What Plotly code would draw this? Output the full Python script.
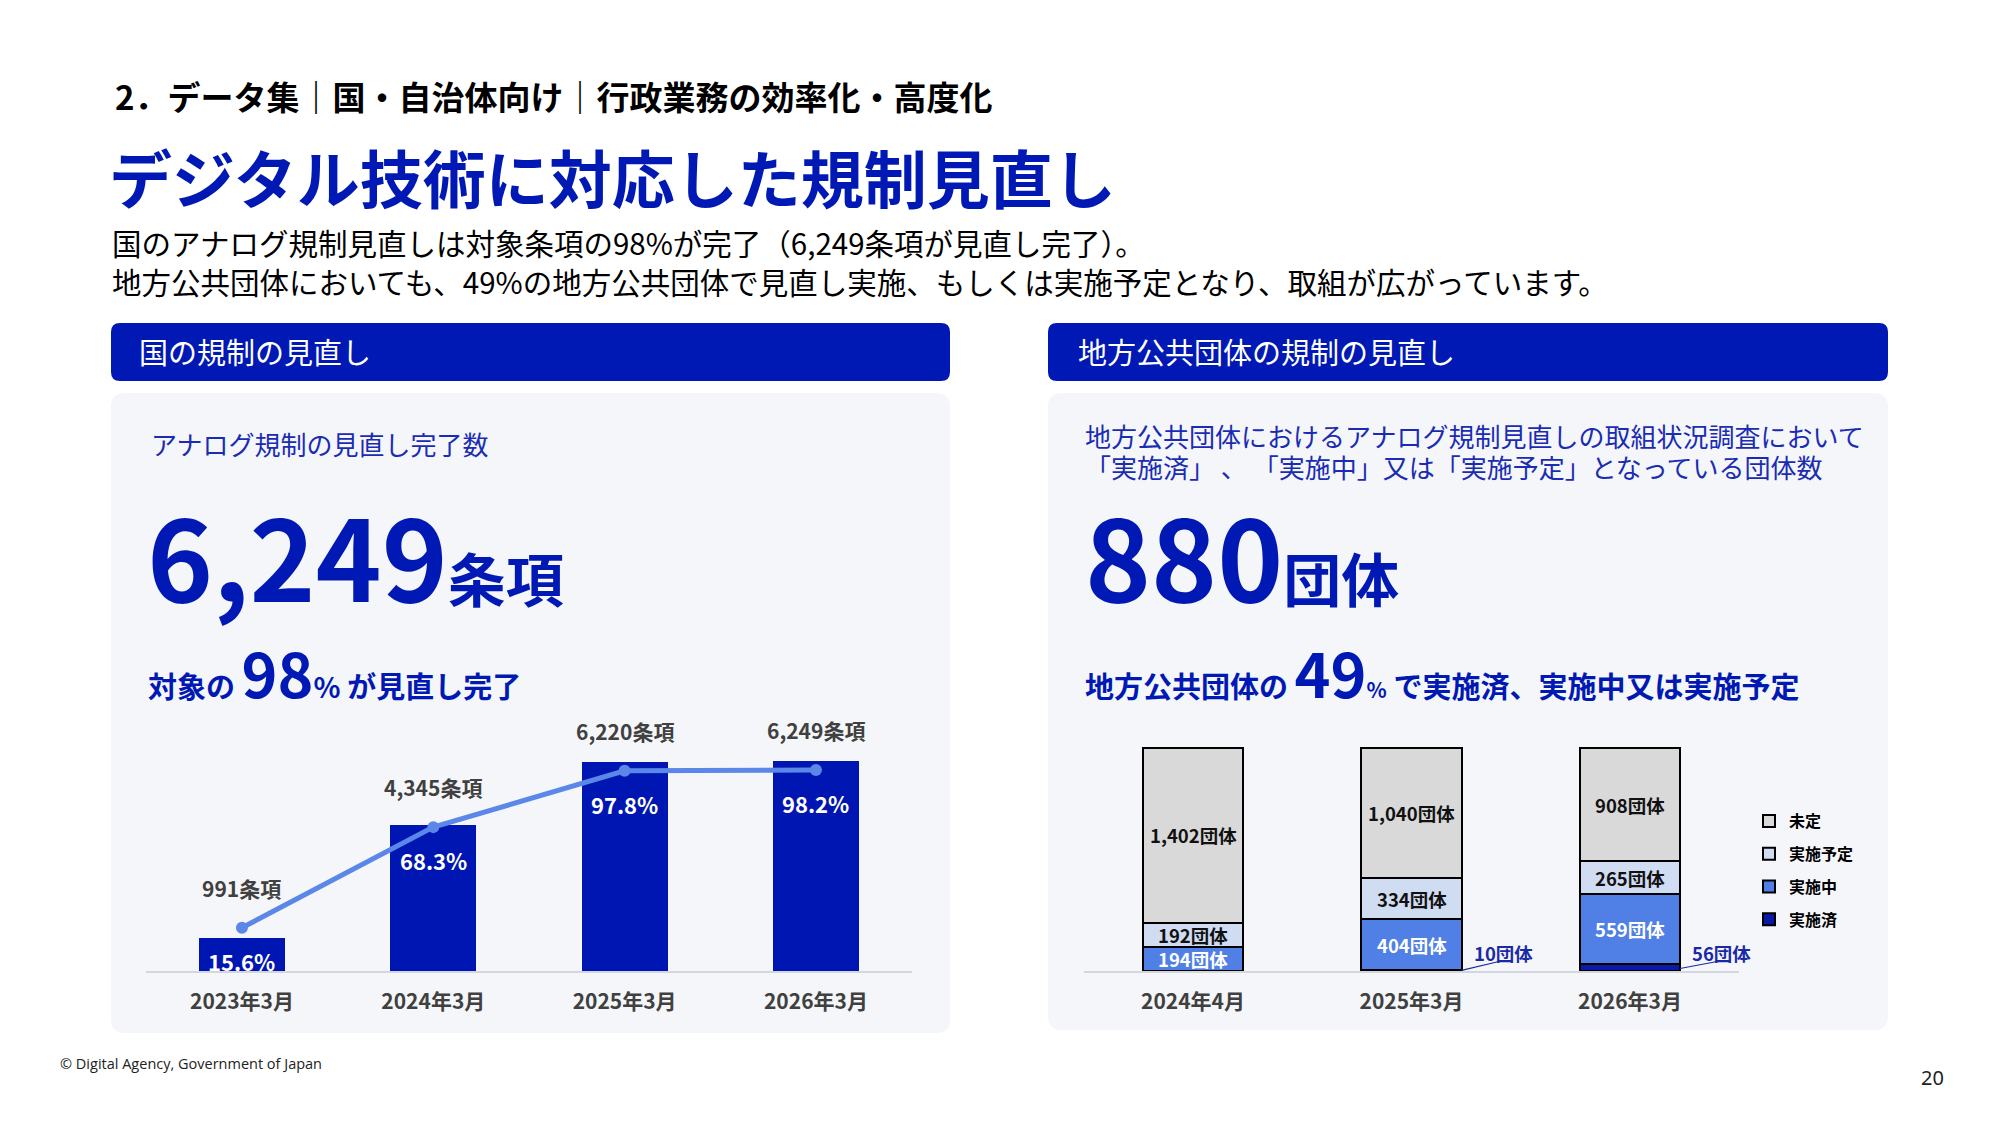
import plotly.graph_objects as go

W, H = 2000, 1125
def px(x): return x / W
def py(y): return 1 - y / H

FONT = "Noto Sans CJK JP"
BLUE = "#0019B4"
BAR_BLUE = "#0016B2"
LINE_BLUE = "#5B87E8"
TEXT_BLUE = "#1A2CB3"

# ---------------- data ----------------
nat_categories = ["2023年3月", "2024年3月", "2025年3月", "2026年3月"]
nat_counts = [991, 4345, 6220, 6249]
nat_pct = [15.6, 68.3, 97.8, 98.2]

loc_categories = ["2024年4月", "2025年3月", "2026年3月"]
loc_done = [0, 10, 56]            # 実施済
loc_doing = [194, 404, 559]       # 実施中
loc_planned = [192, 334, 265]     # 実施予定
loc_undecided = [1402, 1040, 908] # 未定
loc_series = ["実施済", "実施中", "実施予定", "未定"]

header_text = "2．データ集｜国・自治体向け｜行政業務の効率化・高度化"
title_text = "デジタル技術に対応した規制見直し"
sub1 = "国のアナログ規制見直しは対象条項の98%が完了（6,249条項が見直し完了）。"
sub2 = "地方公共団体においても、49%の地方公共団体で見直し実施、もしくは実施予定となり、取組が広がっています。"

fig = go.Figure()

# ---------------- left chart ----------------
fig.add_trace(go.Bar(
    x=nat_categories, y=nat_counts, width=0.45,
    marker=dict(color=BAR_BLUE, line=dict(width=0)),
    xaxis="x", yaxis="y", showlegend=False, hoverinfo="skip"))
fig.add_trace(go.Scatter(
    x=nat_categories, y=nat_pct, mode="lines+markers",
    line=dict(color=LINE_BLUE, width=5), marker=dict(size=12, color=LINE_BLUE),
    xaxis="x", yaxis="y2", showlegend=False, hoverinfo="skip"))

# ---------------- right chart ----------------
loc_values = [loc_done, loc_doing, loc_planned, loc_undecided]
loc_colors = ["#0A1AA6", "#507FE6", "#D0DCF2", "#D9D9D9"]
for k, (name, vals, col) in enumerate(zip(loc_series, loc_values, loc_colors)):
    fig.add_trace(go.Bar(
        x=loc_categories, y=[v if v else None for v in vals], name=name, width=0.458,
        marker=dict(color=col, line=dict(color="#000000", width=2)),
        xaxis="x2", yaxis="y3", legendgroup=name, legendrank=len(loc_series) - k,
        hoverinfo="skip"))

annotations = []
shapes = []

def txt(x, y, text, size, color="#000", weight="normal", xanchor="left", yanchor="middle", family=FONT):
    annotations.append(dict(
        x=px(x), y=py(y), xref="paper", yref="paper", text=text, showarrow=False,
        xanchor=xanchor, yanchor=yanchor,
        font=dict(family=family, size=size, color=color, weight=weight)))

def rrect(x0, y0, x1, y1, r, fill):
    p = (f"M {px(x0+r)},{py(y0)} L {px(x1-r)},{py(y0)} Q {px(x1)},{py(y0)} {px(x1)},{py(y0+r)} "
         f"L {px(x1)},{py(y1-r)} Q {px(x1)},{py(y1)} {px(x1-r)},{py(y1)} "
         f"L {px(x0+r)},{py(y1)} Q {px(x0)},{py(y1)} {px(x0)},{py(y1-r)} "
         f"L {px(x0)},{py(y0+r)} Q {px(x0)},{py(y0)} {px(x0+r)},{py(y0)} Z")
    shapes.append(dict(type="path", path=p, xref="paper", yref="paper",
                       fillcolor=fill, line=dict(width=0), layer="below"))

# panels and header bars
rrect(111, 393, 950, 1033, 14, "#F5F6FA")
rrect(1048, 393, 1888, 1030, 14, "#F5F6FA")
rrect(111, 323, 950, 381, 9, BLUE)
rrect(1048, 323, 1888, 381, 9, BLUE)

# page texts
txt(113, 96, header_text, 33, "#000", "bold")
txt(107, 176, title_text, 63, BLUE, "bold")
txt(110, 242, sub1, 29.5, "#000")
txt(110, 281, sub2, 29.5, "#000")
txt(137, 351, "国の規制の見直し", 29, "#FFFFFF")
txt(1076, 351, "地方公共団体の規制の見直し", 29, "#FFFFFF")

# left panel texts
txt(149, 443, "アナログ規制の見直し完了数", 26, TEXT_BLUE)
txt(145, 553, "<span style='font-size:112px'>6,249</span>条項", 58, BLUE, "bold")
txt(146, 671, "対象の <span style='font-size:61px'>98</span><span style='font-size:28px'>%</span> が見直し完了", 29, BLUE, "bold")

# right panel texts
txt(1083, 435, "地方公共団体におけるアナログ規制見直しの取組状況調査において", 26, TEXT_BLUE)
txt(1083, 466, "「実施済」 、 「実施中」又は「実施予定」となっている団体数", 26, TEXT_BLUE)
txt(1083, 553, "<span style='font-size:112px'>880</span>団体", 58, BLUE, "bold")
txt(1083, 671, "地方公共団体の <span style='font-size:61px'>49</span><span style='font-size:21px'>%</span> で実施済、実施中又は実施予定", 29, BLUE, "bold")

# footer
txt(58, 1063, "© Digital Agency, Government of Japan", 14.5, "#222", family="Open Sans")
txt(1932, 1077, "20", 20, "#222", xanchor="center", family="Noto Sans")

# left chart labels
for c, n, p in zip(nat_categories, nat_counts, nat_pct):
    annotations.append(dict(x=c, y=p, xref="x", yref="y2", text=f"{n:,}条項", showarrow=False,
                            yshift=40, font=dict(family=FONT, size=21, color="#404040", weight="bold")))
    annotations.append(dict(x=c, y=p, xref="x", yref="y2", text=f"{p}%", showarrow=False,
                            yshift=-33, font=dict(family=FONT, size=22, color="#FFFFFF", weight="bold")))

# right chart labels
for i, c in enumerate(loc_categories):
    base = loc_done[i]
    for vals, col in [(loc_doing, "#FFFFFF"), (loc_planned, "#111"), (loc_undecided, "#111")]:
        v = vals[i]
        annotations.append(dict(x=c, y=base + v / 2, xref="x2", yref="y3", text=f"{v:,}団体",
                                showarrow=False, font=dict(family=FONT, size=18.5, color=col, weight="bold")))
        base += v
    if loc_done[i]:
        annotations.append(dict(x=i + 0.42, y=146, xref="x2", yref="y3", text=f"{loc_done[i]}団体",
                                showarrow=False, font=dict(family=FONT, size=18.5, color="#1A2AA6", weight="bold")))
        shapes.append(dict(type="line", xref="x2", yref="y3", x0=i + 0.229, y0=min(loc_done[i] / 2, 20),
                           x1=i + 0.405, y1=78, line=dict(color="#1A2AA6", width=1.2)))

fig.update_layout(
    width=W, height=H, margin=dict(l=0, r=0, t=0, b=0),
    paper_bgcolor="#FFFFFF", plot_bgcolor="rgba(0,0,0,0)",
    barmode="stack", showlegend=True,
    annotations=annotations, shapes=shapes,
    font=dict(family=FONT),
    xaxis=dict(domain=[px(146.3), px(911.6)], anchor="y", range=[-0.5, 3.5], showline=True,
               linecolor="#D3D6DE", linewidth=1.5, ticks="", showgrid=False, zeroline=False,
               fixedrange=True, tickfont=dict(family=FONT, size=21, color="#404040", weight="bold"),
               ticklabelstandoff=11),
    yaxis=dict(domain=[py(971), py(700)], range=[0, 8060], visible=False, fixedrange=True),
    yaxis2=dict(overlaying="y", range=[-7.07, 134.9], visible=False, fixedrange=True),
    xaxis2=dict(domain=[px(1083.75), px(1739.25)], anchor="y3", range=[-0.5, 2.5], showline=True,
                linecolor="#D3D6DE", linewidth=1.5, ticks="", showgrid=False, zeroline=False,
                fixedrange=True, tickfont=dict(family=FONT, size=21, color="#404040", weight="bold"),
                ticklabelstandoff=11),
    yaxis3=dict(domain=[py(971), py(720)], range=[0, 251 / 0.12472], visible=False, fixedrange=True),
    legend=dict(x=px(1749), y=py(804), xanchor="left", yanchor="top",
                traceorder="grouped", tracegroupgap=9, itemwidth=30,
                bgcolor="rgba(0,0,0,0)",
                font=dict(family=FONT, size=16, color="#000", weight="bold")),
)

fig.write_html("out.html")
